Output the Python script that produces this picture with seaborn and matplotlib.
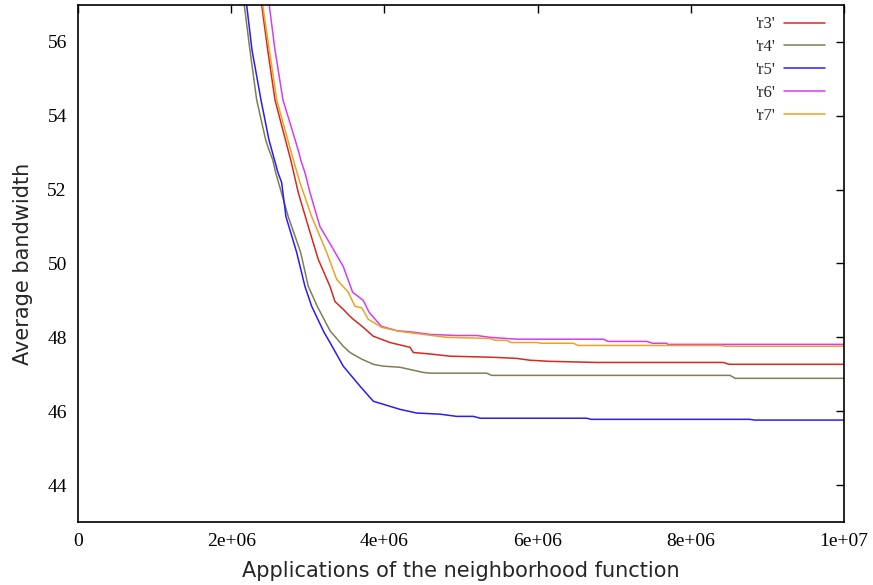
import pandas as pd
import matplotlib
matplotlib.use("Agg")
import matplotlib.pyplot as plt
import seaborn as sns

# curves (x in millions of applications)
r3_x = [2.33, 2.398, 2.477, 2.572, 2.650, 2.777, 2.876, 3.007, 3.137, 3.290, 3.355, 3.463, 3.551, 3.594, 3.725, 3.855,
        4.073, 4.334, 4.377, 4.595, 4.856, 5.422, 5.727, 5.901, 6.162, 6.771, 8.424, 8.50, 10.0]
r3_y = [58.0, 57.00, 55.78, 54.43, 53.81, 52.81, 51.92, 51.00, 50.11, 49.38, 48.97, 48.76, 48.57, 48.49, 48.27, 48.03,
        47.86, 47.73, 47.59, 47.55, 47.49, 47.46, 47.43, 47.38, 47.35, 47.32, 47.32, 47.27, 47.27]

r4_x = [2.11, 2.171, 2.245, 2.333, 2.450, 2.493, 2.542, 2.581, 2.745, 2.907, 3.007, 3.124, 3.290, 3.463, 3.551, 3.704,
        3.855, 3.986, 4.204, 4.377, 4.508, 4.595, 5.335, 5.40, 8.512, 8.58, 10.0]
r4_y = [58.0, 57.00, 55.78, 54.43, 53.35, 53.08, 52.81, 52.46, 51.27, 50.30, 49.38, 48.84, 48.18, 47.76, 47.59, 47.41,
        47.27, 47.22, 47.19, 47.11, 47.05, 47.03, 47.03, 46.97, 46.97, 46.89, 46.89]

r5_x = [2.14, 2.202, 2.272, 2.389, 2.493, 2.611, 2.659, 2.715, 2.855, 2.963, 3.051, 3.211, 3.290, 3.463, 3.681, 3.855,
        3.982, 4.204, 4.422, 4.726, 4.944, 5.161, 5.25, 6.64, 6.70, 8.77, 8.83, 10.0]
r5_y = [58.0, 57.00, 55.78, 54.43, 53.35, 52.46, 52.19, 51.27, 50.30, 49.38, 48.84, 48.14, 47.86, 47.22, 46.68, 46.27,
        46.19, 46.05, 45.95, 45.92, 45.86, 45.86, 45.81, 45.81, 45.78, 45.78, 45.76, 45.76]

r6_x = [2.436, 2.497, 2.572, 2.676, 2.807, 2.885, 2.907, 2.963, 3.029, 3.159, 3.312, 3.463, 3.586, 3.725, 3.80, 3.96,
        4.16, 4.377, 4.595, 4.944, 5.205, 5.379, 5.727, 6.858, 6.92, 7.424, 7.50, 7.685, 7.70, 10.0]
r6_y = [58.0, 57.00, 55.78, 54.43, 53.54, 53.00, 52.81, 52.46, 51.92, 51.00, 50.46, 49.92, 49.22, 49.00, 48.68, 48.30,
        48.18, 48.14, 48.08, 48.05, 48.05, 48.00, 47.95, 47.95, 47.89, 47.89, 47.84, 47.84, 47.81, 47.81]

r7_x = [2.34, 2.411, 2.594, 2.811, 2.898, 3.051, 3.247, 3.377, 3.529, 3.616, 3.704, 3.790, 3.965, 4.204, 4.508, 4.813,
        5.379, 5.45, 5.597, 5.65, 5.988, 6.05, 6.466, 6.53, 8.381, 8.45, 10.0]
r7_y = [58.0, 57.00, 54.43, 52.81, 52.19, 51.27, 50.30, 49.57, 49.22, 48.84, 48.80, 48.49, 48.27, 48.16, 48.08, 48.00,
        47.97, 47.92, 47.92, 47.86, 47.86, 47.84, 47.84, 47.78, 47.78, 47.76, 47.76]

series_names = ["'r3'", "'r4'", "'r5'", "'r6'", "'r7'"]
series_colors = ["#d8281f", "#7f7f55", "#2a1cf5", "#d63cf5", "#eba322"]
x_ticks = [0, 2e6, 4e6, 6e6, 8e6, 1e7]
x_tick_labels = ["0", "2e+06", "4e+06", "6e+06", "8e+06", "1e+07"]
y_ticks = [44, 46, 48, 50, 52, 54, 56]

frames = []
for name, xs, ys in zip(series_names, [r3_x, r4_x, r5_x, r6_x, r7_x], [r3_y, r4_y, r5_y, r6_y, r7_y]):
    frames.append(pd.DataFrame({"x": [v * 1e6 for v in xs], "y": ys, "run": name}))
df = pd.concat(frames, ignore_index=True)

sns.set_theme(style="white")
fig = plt.figure(figsize=(8.73, 5.85), dpi=100)
ax = fig.add_axes([0.0893, 0.1077, 0.8775, 0.8838])

sns.lineplot(data=df, x="x", y="y", hue="run", hue_order=series_names,
             palette=dict(zip(series_names, series_colors)),
             estimator=None, sort=False, linewidth=1.1, ax=ax)

ax.set_xlim(0, 1e7)
ax.set_ylim(43, 57)
ax.set_xticks(x_ticks)
ax.set_xticklabels(x_tick_labels, family="Liberation Serif", fontsize=14)
ax.set_yticks(y_ticks)
ax.set_yticklabels([str(v) for v in y_ticks], family="Liberation Serif", fontsize=14)
ax.tick_params(direction="in", length=6, width=1, top=True, right=True, colors="black", pad=8)
for s in ax.spines.values():
    s.set_color("black")
    s.set_linewidth(1.2)

ax.set_xlabel("Applications of the neighborhood function", fontsize=15, family="DejaVu Sans", labelpad=8)
ax.set_ylabel("Average bandwidth", fontsize=15, family="DejaVu Sans", labelpad=10)

handles, labels = ax.get_legend_handles_labels()
ax.legend(handles, labels, loc="upper right", bbox_to_anchor=(0.995, 1.007), frameon=False,
          markerfirst=False, handlelength=2.45, handletextpad=0.55, labelspacing=0.41,
          prop={"family": "Liberation Serif", "size": 12})

fig.savefig("out.png", dpi=100)
